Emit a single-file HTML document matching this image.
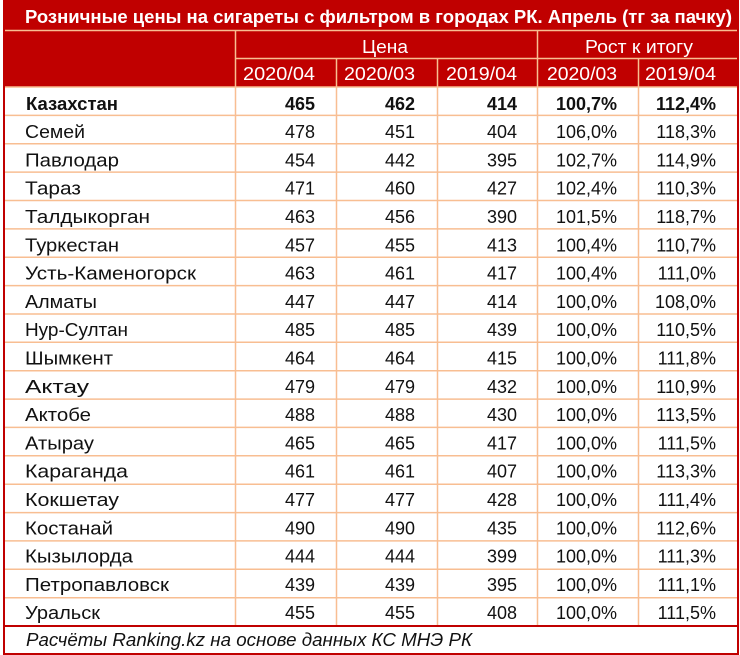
<!DOCTYPE html>
<html><head><meta charset="utf-8">
<style>
html,body{margin:0;padding:0;background:#fff;}
svg{display:block;}
text{font-family:"Liberation Sans",Arial,sans-serif;font-size:18px;}
.w{fill:#fff;}
.d{fill:#111;}
.e{text-anchor:end;}
.m{text-anchor:middle;}
.b{font-weight:bold;}
</style></head>
<body>
<svg width="740" height="655" viewBox="0 0 740 655" xmlns="http://www.w3.org/2000/svg">
<rect x="3" y="0" width="736" height="87" fill="#C00000"/>
<g stroke="#F8BE92" stroke-width="1.5" fill="none">
<line x1="3" y1="30.5" x2="738" y2="30.5"/>
<line x1="235" y1="58.5" x2="738" y2="58.5"/>
<line x1="3" y1="87" x2="738" y2="87"/>
<line x1="3" y1="115.4" x2="738" y2="115.4"/>
<line x1="3" y1="143.7" x2="738" y2="143.7"/>
<line x1="3" y1="172.1" x2="738" y2="172.1"/>
<line x1="3" y1="200.5" x2="738" y2="200.5"/>
<line x1="3" y1="228.9" x2="738" y2="228.9"/>
<line x1="3" y1="257.2" x2="738" y2="257.2"/>
<line x1="3" y1="285.6" x2="738" y2="285.6"/>
<line x1="3" y1="314" x2="738" y2="314"/>
<line x1="3" y1="342.3" x2="738" y2="342.3"/>
<line x1="3" y1="370.7" x2="738" y2="370.7"/>
<line x1="3" y1="399.1" x2="738" y2="399.1"/>
<line x1="3" y1="427.4" x2="738" y2="427.4"/>
<line x1="3" y1="455.8" x2="738" y2="455.8"/>
<line x1="3" y1="484.2" x2="738" y2="484.2"/>
<line x1="3" y1="512.6" x2="738" y2="512.6"/>
<line x1="3" y1="540.9" x2="738" y2="540.9"/>
<line x1="3" y1="569.3" x2="738" y2="569.3"/>
<line x1="3" y1="597.7" x2="738" y2="597.7"/>
<line x1="235.5" y1="30" x2="235.5" y2="626"/>
<line x1="336.5" y1="58" x2="336.5" y2="626"/>
<line x1="437.5" y1="58" x2="437.5" y2="626"/>
<line x1="537.5" y1="30" x2="537.5" y2="626"/>
<line x1="638.5" y1="58" x2="638.5" y2="626"/>
</g>
<line x1="3" y1="626" x2="739" y2="626" stroke="#C00000" stroke-width="2"/>
<rect x="4" y="1" width="734" height="653" fill="none" stroke="#C00000" stroke-width="2"/>

<text class="w b" x="25" y="23" textLength="707" lengthAdjust="spacingAndGlyphs">Розничные цены на сигареты с фильтром в городах РК. Апрель (тг за пачку)</text>
<text class="w" x="362" y="53" textLength="46" lengthAdjust="spacingAndGlyphs">Цена</text>
<text class="w" x="585" y="53" textLength="108" lengthAdjust="spacingAndGlyphs">Рост к итогу</text>
<text class="w" x="243" y="80" textLength="72" lengthAdjust="spacingAndGlyphs">2020/04</text>
<text class="w" x="344" y="80" textLength="71" lengthAdjust="spacingAndGlyphs">2020/03</text>
<text class="w" x="446" y="80" textLength="71" lengthAdjust="spacingAndGlyphs">2019/04</text>
<text class="w" x="547" y="80" textLength="70" lengthAdjust="spacingAndGlyphs">2020/03</text>
<text class="w" x="645" y="80" textLength="71" lengthAdjust="spacingAndGlyphs">2019/04</text>

<text class="d b" x="26" y="109.8" textLength="92" lengthAdjust="spacingAndGlyphs">Казахстан</text><text class="d b e" x="315" y="109.8">465</text><text class="d b e" x="415" y="109.8">462</text><text class="d b e" x="517" y="109.8">414</text><text class="d b e" x="617" y="109.8">100,7%</text><text class="d b e" x="716" y="109.8">112,4%</text>

<text class="d" x="25" y="138.1" textLength="60" lengthAdjust="spacingAndGlyphs">Семей</text><text class="d e" x="315" y="138.1">478</text><text class="d e" x="415" y="138.1">451</text><text class="d e" x="517" y="138.1">404</text><text class="d e" x="617" y="138.1">106,0%</text><text class="d e" x="716" y="138.1">118,3%</text>
<text class="d" x="25" y="166.4" textLength="94" lengthAdjust="spacingAndGlyphs">Павлодар</text><text class="d e" x="315" y="166.4">454</text><text class="d e" x="415" y="166.4">442</text><text class="d e" x="517" y="166.4">395</text><text class="d e" x="617" y="166.4">102,7%</text><text class="d e" x="716" y="166.4">114,9%</text>
<text class="d" x="25" y="194.7" textLength="56" lengthAdjust="spacingAndGlyphs">Тараз</text><text class="d e" x="315" y="194.7">471</text><text class="d e" x="415" y="194.7">460</text><text class="d e" x="517" y="194.7">427</text><text class="d e" x="617" y="194.7">102,4%</text><text class="d e" x="716" y="194.7">110,3%</text>
<text class="d" x="25" y="223" textLength="125" lengthAdjust="spacingAndGlyphs">Талдыкорган</text><text class="d e" x="315" y="223">463</text><text class="d e" x="415" y="223">456</text><text class="d e" x="517" y="223">390</text><text class="d e" x="617" y="223">101,5%</text><text class="d e" x="716" y="223">118,7%</text>
<text class="d" x="25" y="251.3" textLength="94" lengthAdjust="spacingAndGlyphs">Туркестан</text><text class="d e" x="315" y="251.3">457</text><text class="d e" x="415" y="251.3">455</text><text class="d e" x="517" y="251.3">413</text><text class="d e" x="617" y="251.3">100,4%</text><text class="d e" x="716" y="251.3">110,7%</text>
<text class="d" x="25" y="279.6" textLength="171" lengthAdjust="spacingAndGlyphs">Усть-Каменогорск</text><text class="d e" x="315" y="279.6">463</text><text class="d e" x="415" y="279.6">461</text><text class="d e" x="517" y="279.6">417</text><text class="d e" x="617" y="279.6">100,4%</text><text class="d e" x="716" y="279.6">111,0%</text>
<text class="d" x="25" y="307.9" textLength="72" lengthAdjust="spacingAndGlyphs">Алматы</text><text class="d e" x="315" y="307.9">447</text><text class="d e" x="415" y="307.9">447</text><text class="d e" x="517" y="307.9">414</text><text class="d e" x="617" y="307.9">100,0%</text><text class="d e" x="716" y="307.9">108,0%</text>
<text class="d" x="25" y="336.2" textLength="103" lengthAdjust="spacingAndGlyphs">Нур-Султан</text><text class="d e" x="315" y="336.2">485</text><text class="d e" x="415" y="336.2">485</text><text class="d e" x="517" y="336.2">439</text><text class="d e" x="617" y="336.2">100,0%</text><text class="d e" x="716" y="336.2">110,5%</text>
<text class="d" x="25" y="364.5" textLength="88" lengthAdjust="spacingAndGlyphs">Шымкент</text><text class="d e" x="315" y="364.5">464</text><text class="d e" x="415" y="364.5">464</text><text class="d e" x="517" y="364.5">415</text><text class="d e" x="617" y="364.5">100,0%</text><text class="d e" x="716" y="364.5">111,8%</text>
<text class="d" x="25" y="392.8" textLength="64" lengthAdjust="spacingAndGlyphs">Актау</text><text class="d e" x="315" y="392.8">479</text><text class="d e" x="415" y="392.8">479</text><text class="d e" x="517" y="392.8">432</text><text class="d e" x="617" y="392.8">100,0%</text><text class="d e" x="716" y="392.8">110,9%</text>
<text class="d" x="25" y="421.1" textLength="66" lengthAdjust="spacingAndGlyphs">Актобе</text><text class="d e" x="315" y="421.1">488</text><text class="d e" x="415" y="421.1">488</text><text class="d e" x="517" y="421.1">430</text><text class="d e" x="617" y="421.1">100,0%</text><text class="d e" x="716" y="421.1">113,5%</text>
<text class="d" x="25" y="449.4" textLength="69" lengthAdjust="spacingAndGlyphs">Атырау</text><text class="d e" x="315" y="449.4">465</text><text class="d e" x="415" y="449.4">465</text><text class="d e" x="517" y="449.4">417</text><text class="d e" x="617" y="449.4">100,0%</text><text class="d e" x="716" y="449.4">111,5%</text>
<text class="d" x="25" y="477.7" textLength="103" lengthAdjust="spacingAndGlyphs">Караганда</text><text class="d e" x="315" y="477.7">461</text><text class="d e" x="415" y="477.7">461</text><text class="d e" x="517" y="477.7">407</text><text class="d e" x="617" y="477.7">100,0%</text><text class="d e" x="716" y="477.7">113,3%</text>
<text class="d" x="25" y="506" textLength="94" lengthAdjust="spacingAndGlyphs">Кокшетау</text><text class="d e" x="315" y="506">477</text><text class="d e" x="415" y="506">477</text><text class="d e" x="517" y="506">428</text><text class="d e" x="617" y="506">100,0%</text><text class="d e" x="716" y="506">111,4%</text>
<text class="d" x="25" y="534.3" textLength="88" lengthAdjust="spacingAndGlyphs">Костанай</text><text class="d e" x="315" y="534.3">490</text><text class="d e" x="415" y="534.3">490</text><text class="d e" x="517" y="534.3">435</text><text class="d e" x="617" y="534.3">100,0%</text><text class="d e" x="716" y="534.3">112,6%</text>
<text class="d" x="25" y="562.6" textLength="108" lengthAdjust="spacingAndGlyphs">Кызылорда</text><text class="d e" x="315" y="562.6">444</text><text class="d e" x="415" y="562.6">444</text><text class="d e" x="517" y="562.6">399</text><text class="d e" x="617" y="562.6">100,0%</text><text class="d e" x="716" y="562.6">111,3%</text>
<text class="d" x="25" y="590.9" textLength="144" lengthAdjust="spacingAndGlyphs">Петропавловск</text><text class="d e" x="315" y="590.9">439</text><text class="d e" x="415" y="590.9">439</text><text class="d e" x="517" y="590.9">395</text><text class="d e" x="617" y="590.9">100,0%</text><text class="d e" x="716" y="590.9">111,1%</text>
<text class="d" x="25" y="619.2" textLength="75" lengthAdjust="spacingAndGlyphs">Уральск</text><text class="d e" x="315" y="619.2">455</text><text class="d e" x="415" y="619.2">455</text><text class="d e" x="517" y="619.2">408</text><text class="d e" x="617" y="619.2">100,0%</text><text class="d e" x="716" y="619.2">111,5%</text>

<text class="d" x="26" y="646" font-style="italic" textLength="446" lengthAdjust="spacingAndGlyphs">Расчёты Ranking.kz на основе данных КС МНЭ РК</text>
</svg>
</body></html>
